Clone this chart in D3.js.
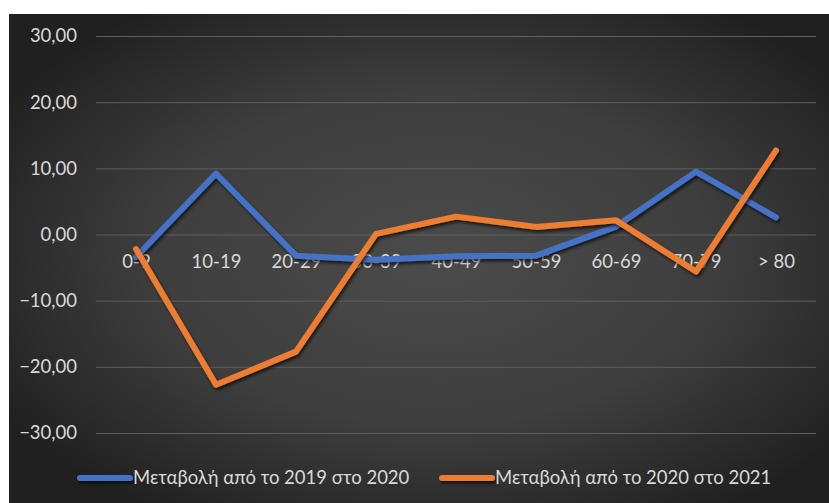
<!DOCTYPE html>
<html>
<head>
<meta charset="utf-8">
<script src="https://cdn.jsdelivr.net/npm/d3@7"></script>
<style>
  html, body { margin: 0; padding: 0; background: #ffffff; }
  svg { display: block; }
</style>
</head>
<body>
<svg id="chart" width="829" height="503"></svg>
<script>
const categories = ["0-9", "10-19", "20-29", "30-39", "40-49", "50-59", "60-69", "70-79", "> 80"];
const change2019to2020 = [-3.4, 9.2, -3.2, -3.8, -3.3, -3.2, 1.2, 9.5, 2.6];
const change2020to2021 = [-2.2, -22.7, -17.7, 0.1, 2.7, 1.15, 2.15, -5.6, 12.7];
const seriesNames = ["Μεταβολή από το 2019 στο 2020", "Μεταβολή από το 2020 στο 2021"];
const seriesColors = ["#4472C4", "#ED7D31"];
const yTicks = [-30, -20, -10, 0, 10, 20, 30];

const svg = d3.select("#chart");
const W = 829, H = 503;
const font = "Lato, 'Open Sans', sans-serif";
const textColor = "#d9d9d9";

// background
const defs = svg.append("defs");
const rg = defs.append("radialGradient").attr("id", "bg")
  .attr("cx", "52%").attr("cy", "50%").attr("r", "62%");
rg.append("stop").attr("offset", "0%").attr("stop-color", "#4b4b4b");
rg.append("stop").attr("offset", "55%").attr("stop-color", "#3e3e3e");
rg.append("stop").attr("offset", "100%").attr("stop-color", "#202020");
const f = defs.append("filter").attr("id", "shadow")
  .attr("filterUnits", "userSpaceOnUse")
  .attr("x", -W).attr("y", -H).attr("width", 3 * W).attr("height", 3 * H);
f.append("feDropShadow").attr("dx", 1.5).attr("dy", 2.5).attr("stdDeviation", 1.8)
  .attr("flood-color", "#000").attr("flood-opacity", 0.65);

svg.append("rect").attr("x", 9).attr("y", 14).attr("width", W - 9).attr("height", H - 14)
  .attr("fill", "url(#bg)");

const x = d3.scalePoint().domain(categories).range([136, 776]);
const y = d3.scaleLinear().domain([-30, 30]).range([433, 36]);

// gridlines
const gridAxis = d3.axisLeft(y).tickValues(yTicks).tickSize(-(816 - 96)).tickFormat("");
const grid = svg.append("g").attr("transform", "translate(96,0)").call(gridAxis);
grid.select(".domain").remove();
grid.selectAll(".tick line").attr("stroke", "#5e5e5e").attr("stroke-width", 1);

// y labels
const yAxis = d3.axisLeft(y).tickValues(yTicks).tickSize(0).tickPadding(0)
  .tickFormat(d => d3.format(".2f")(d).replace(".", ","));
const ya = svg.append("g").attr("transform", "translate(77,0)").call(yAxis);
ya.select(".domain").remove();
ya.selectAll("text").attr("fill", textColor).attr("font-family", font).attr("font-size", 18.5);

// x labels at zero line
const xAxis = d3.axisBottom(x).tickSize(0).tickPadding(0);
const xa = svg.append("g").attr("transform", `translate(0,${y(0) + 27})`).call(xAxis);
xa.select(".domain").remove();
xa.selectAll("text").attr("fill", textColor).attr("font-family", font).attr("font-size", 18.5)
  .attr("dy", "0.36em").attr("y", 0);

// lines
const line = d3.line().x((d, i) => x(categories[i])).y(d => y(d));
[change2019to2020, change2020to2021].forEach((vals, k) => {
  svg.append("path").datum(vals)
    .attr("d", line)
    .attr("fill", "none")
    .attr("stroke", seriesColors[k])
    .attr("stroke-width", 6)
    .attr("stroke-linejoin", "round")
    .attr("stroke-linecap", "round")
    .attr("filter", "url(#shadow)");
});

// legend
const legendX = [80, 442];
seriesNames.forEach((name, k) => {
  const g = svg.append("g").attr("transform", `translate(${legendX[k]},478)`);
  g.append("line").attr("x1", 0).attr("x2", 50).attr("y1", 0).attr("y2", 0)
    .attr("stroke", seriesColors[k]).attr("stroke-width", 6)
    .attr("stroke-linecap", "round").attr("filter", "url(#shadow)");
  g.append("text").attr("x", 53).attr("y", 0).attr("dy", "0.35em")
    .attr("fill", textColor).attr("font-family", font).attr("font-size", 18.5)
    .text(name);
});
</script>
</body>
</html>
